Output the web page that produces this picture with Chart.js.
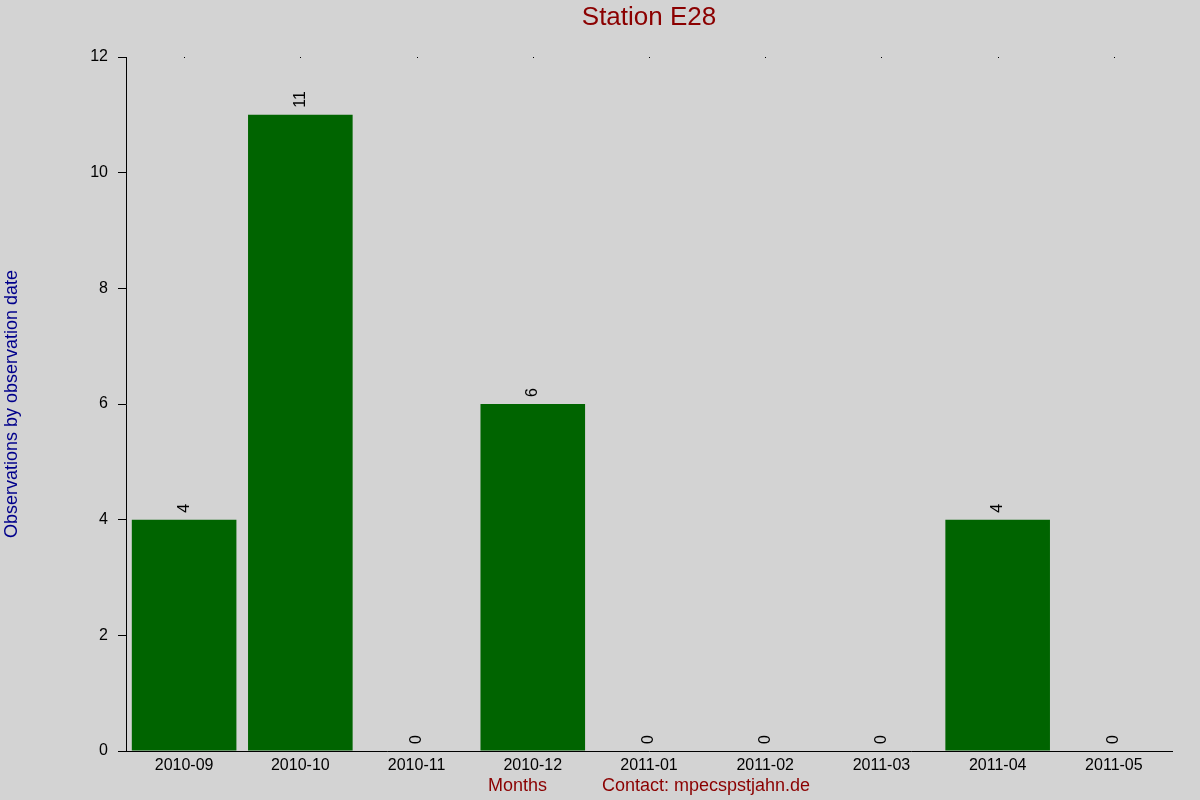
<!DOCTYPE html>
<html>
<head>
<meta charset="utf-8">
<script src="https://cdn.jsdelivr.net/npm/chart.js@4/dist/chart.umd.min.js"></script>
<style>
  html, body { margin: 0; padding: 0; background: #d3d3d3; }
  #wrap { width: 1200px; height: 800px; }
</style>
</head>
<body>
<div id="wrap"><canvas id="chart" width="1200" height="800"></canvas></div>
<script>
const months = ['2010-09', '2010-10', '2010-11', '2010-12', '2011-01', '2011-02', '2011-03', '2011-04', '2011-05'];
const observations = [4, 11, 0, 6, 0, 0, 0, 4, 0];
const yTicks = [0, 2, 4, 6, 8, 10, 12];

const FONT = 'Liberation Sans, Arial, sans-serif';

// rotated count above each bar
const barLabels = {
  id: 'barLabels',
  afterDatasetsDraw(chart) {
    const ctx = chart.ctx;
    const meta = chart.getDatasetMeta(0);
    ctx.save();
    ctx.fillStyle = '#000';
    ctx.font = '16px ' + FONT;
    ctx.textAlign = 'left';
    ctx.textBaseline = 'middle';
    meta.data.forEach((bar, i) => {
      ctx.save();
      ctx.translate(bar.x, bar.y - 7);
      ctx.rotate(-Math.PI / 2);
      ctx.fillText(String(observations[i]), 0, 0);
      ctx.restore();
    });
    ctx.restore();
  }
};

// little dots along the top edge at each month
const topDots = {
  id: 'topDots',
  afterDraw(chart) {
    const ctx = chart.ctx;
    const x = chart.scales.x;
    ctx.save();
    ctx.fillStyle = '#000';
    months.forEach((m, i) => {
      ctx.fillRect(Math.round(x.getPixelForValue(i)), chart.chartArea.top, 1, 1);
    });
    ctx.restore();
  }
};

const bg = {
  id: 'bg',
  beforeDraw(chart) {
    const ctx = chart.ctx;
    ctx.save();
    ctx.fillStyle = '#d3d3d3';
    ctx.fillRect(0, 0, chart.width, chart.height);
    ctx.restore();
  }
};

new Chart(document.getElementById('chart').getContext('2d'), {
  type: 'bar',
  data: {
    labels: months,
    datasets: [{
      data: observations,
      backgroundColor: '#006400',
      borderWidth: 0,
      barPercentage: 0.9,
      categoryPercentage: 1.0
    }]
  },
  options: {
    responsive: false,
    animation: false,
    devicePixelRatio: 1,
    layout: { padding: { left: 0, right: 28, top: 0, bottom: 0 } },
    plugins: {
      legend: { display: false },
      tooltip: { enabled: false },
      title: { display: false }
    },
    scales: {
      x: {
        position: 'bottom',
        grid: { display: false, drawTicks: false },
        border: { display: true, color: '#000', width: 1 },
        ticks: { color: '#000', font: { family: FONT, size: 16 }, padding: 5, maxRotation: 0, autoSkip: false },
        title: {
          display: true,
          text: 'Months           Contact: mpecspstjahn.de',
          color: '#8b0000',
          font: { family: FONT, size: 18 },
          padding: { top: 0, bottom: 3 }
        },
        afterFit(scale) { scale.height = 49; }
      },
      xTop: {
        type: 'category',
        position: 'top',
        labels: months,
        grid: { display: false },
        border: { display: false },
        ticks: { display: false },
        title: {
          display: true,
          text: 'Station E28',
          color: '#8b0000',
          font: { family: FONT, size: 26 },
          padding: { top: 2, bottom: 0 }
        },
        afterFit(scale) { scale.height = 57; }
      },
      y: {
        min: 0,
        max: 12,
        afterBuildTicks(scale) { scale.ticks = yTicks.map(v => ({ value: v })); },
        grid: { display: true, drawOnChartArea: false, drawTicks: true, tickLength: 8, color: '#000' },
        border: { display: true, color: '#000', width: 1 },
        ticks: { color: '#000', font: { family: FONT, size: 16 }, padding: 10 },
        title: {
          display: true,
          text: 'Observations by observation date',
          color: '#00008b',
          font: { family: FONT, size: 18 },
          padding: { top: 1, bottom: 0 }
        },
        afterFit(scale) { scale.width = 126; }
      }
    }
  },
  plugins: [bg, barLabels, topDots]
});
</script>
</body>
</html>
